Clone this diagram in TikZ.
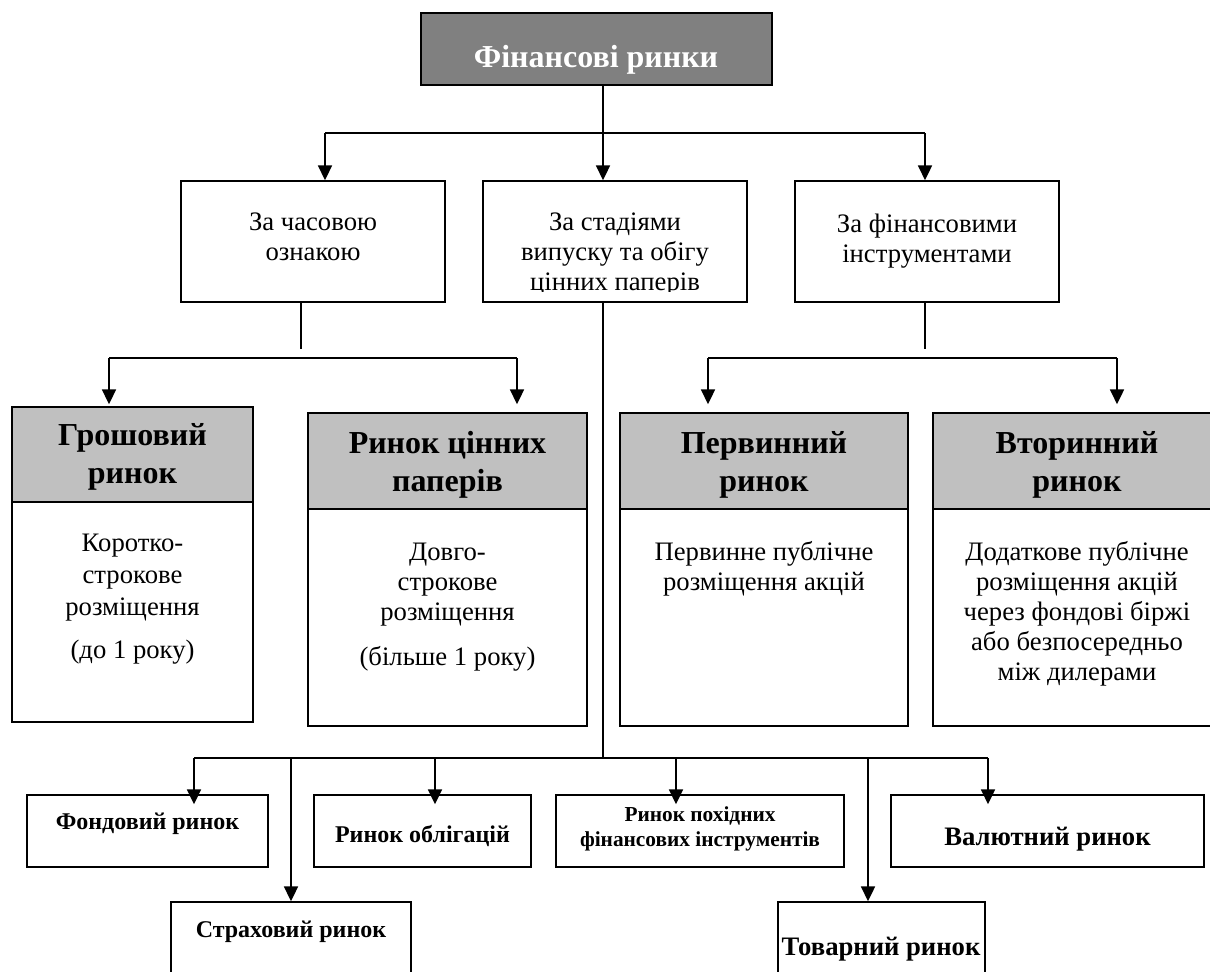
\documentclass[tikz,border=0pt]{standalone}
\usepackage{fontspec}
\setmainfont{Liberation Serif}
\usetikzlibrary{arrows.meta,fit,calc}
\newcommand\setfs[2]{\fontsize{#1}{#2}\selectfont}
\definecolor{topgray}{HTML}{808080}
\definecolor{headgray}{HTML}{C0C0C0}

\begin{document}
\begin{tikzpicture}[x=0.75pt,y=-0.75pt,
  box/.style={draw=black, line width=1.3pt, inner sep=0pt},
  headbox/.style={box, fill=headgray},
  link/.style={line width=1.3pt},
  arr/.style={link, -{Triangle[length=11pt,width=10.5pt]}},
  lbl/.style={align=center, anchor=base, inner sep=0pt},
  plain/.style={lbl, font=\setfs{20pt}{22.5pt}},
  headtxt/.style={lbl, font=\bfseries\setfs{24pt}{28.5pt}},
]
\useasboundingbox (0,0) rectangle (1210,971);

% ---- root ----
\node[box, fill=topgray, fit={(421,13) (772,85)}] (fin) {};
\node[lbl, text=white, font=\bfseries\setfs{24pt}{28pt}] (finT) at (596,67) {Фінансові ринки};

% ---- classification criteria (multi-line labels sit on their last baseline) ----
\node[box, fit={(181,181) (445,302)}] (byTime) {};
\node[plain] (byTimeT) at (313,260) {За часовою\\ознакою};

\node[box, fit={(483,181) (747,302)}] (byStage) {};
\begin{scope}
  \clip (483,181) rectangle (747,291);
  \node[plain] (byStageT) at (615,290) {За стадіями\\випуску та обігу\\цінних паперів};
\end{scope}

\node[box, fit={(795,181) (1059,302)}] (byInstr) {};
\node[plain] (byInstrT) at (927,262) {За фінансовими\\інструментами};

% ---- market types ----
\node[headbox, fit={(12,407) (253,502)}] (grH) {};
\node[box, fit={(12,502) (253,722)}] (grB) {};
\node[headtxt] (grHT) at (132.5,483) {Грошовий\\ринок};
\node[plain, font=\setfs{20pt}{24pt}] (grBT) at (132.5,658) {Коротко-\\строкове\\розміщення\\[8pt](до 1 року)};

\node[headbox, fit={(308,413) (587,509)}] (rcH) {};
\node[box, fit={(308,509) (587,726)}] (rcB) {};
\node[headtxt] (rcHT) at (447.5,491) {Ринок цінних\\паперів};
\node[plain] (rcBT) at (447.5,665) {Довго-\\строкове\\розміщення\\[11pt](більше 1 року)};

\node[headbox, fit={(620,413) (908,509)}] (pvH) {};
\node[box, fit={(620,509) (908,726)}] (pvB) {};
\node[headtxt] (pvHT) at (764,491) {Первинний\\ринок};
\node[plain] (pvBT) at (764,590) {Первинне публічне\\розміщення акцій};

\node[headbox, fit={(933,413) (1221,509)}] (vtH) {};
\node[box, fit={(933,509) (1221,726)}] (vtB) {};
\node[headtxt] (vtHT) at (1077,491) {Вторинний\\ринок};
\node[plain] (vtBT) at (1077,680) {Додаткове публічне\\розміщення акцій\\через фондові біржі\\або безпосередньо\\між дилерами};

% ---- segments ----
\node[box, fit={(27,795) (268,867)}] (fond) {};
\node[lbl, font=\bfseries\setfs{18pt}{21pt}] (fondT) at (147.5,829) {Фондовий ринок};

\node[box, fit={(314,795) (531,867)}] (obl) {};
\node[lbl, font=\bfseries\setfs{18pt}{22pt}] (oblT) at (422.5,842) {Ринок облігацій};

\node[box, fit={(556,795) (844,867)}] (pokh) {};
\node[lbl, font=\bfseries\setfs{16pt}{18.75pt}] (pokhT) at (700,846) {Ринок похідних\\фінансових інструментів};

\node[box, fit={(891,795) (1204,867)}] (val) {};
\node[lbl, font=\bfseries\setfs{20pt}{24pt}] (valT) at (1047.5,845) {Валютний ринок};

\node[box, fit={(171,902) (411,990)}] (strakh) {};
\node[lbl, font=\bfseries\setfs{18pt}{21pt}] (strakhT) at (291,937) {Страховий ринок};

\node[box, fit={(778,902) (985,990)}] (tovar) {};
\node[lbl, font=\bfseries\setfs{20pt}{24pt}] (tovarT) at (881,955) {Товарний ринок};

% ---- connectors: root to criteria ----
\coordinate (j0) at (603,133);
\coordinate (jA) at (325,133);
\coordinate (jC) at (925,133);
\draw[link] (fin.south -| j0) -- (j0);
\draw[link] (jA) -- (jC);
\draw[arr] (jA) -- (jA |- byTime.north);
\draw[arr] (j0) -- (j0 |- byStage.north);
\draw[arr] (jC) -- (jC |- byInstr.north);

% ---- by time ----
\coordinate (sA) at (301,349);
\coordinate (kGr) at (109,358);
\coordinate (kRc) at (517,358);
\draw[link] (byTime.south -| sA) -- (sA);
\draw[link] (kGr) -- (kRc);
\draw[arr] (kGr) -- ($(grH.north -| kGr)+(0,-2)$);
\draw[arr] (kRc) -- ($(rcH.north -| kRc)+(0,-8)$);

% ---- by instruments ----
\coordinate (sC) at (925,349);
\coordinate (kPv) at (708,358);
\coordinate (kVt) at (1117,358);
\draw[link] (byInstr.south -| sC) -- (sC);
\draw[link] (kPv) -- (kVt);
\draw[arr] (kPv) -- ($(pvH.north -| kPv)+(0,-8)$);
\draw[arr] (kVt) -- ($(vtH.north -| kVt)+(0,-8)$);

% ---- by stages: segment bus ----
\coordinate (m0) at (603,758);
\coordinate (mF) at (194,758);
\coordinate (mS) at (291,758);
\coordinate (mO) at (435,758);
\coordinate (mP) at (676,758);
\coordinate (mT) at (868,758);
\coordinate (mV) at (988,758);
\draw[link] (byStage.south -| m0) -- (m0);
\draw[link] (mF) -- (mV);
\draw[arr] (mF) -- ($(fond.north -| mF)+(0,10)$);
\draw[arr] (mS) -- (mS |- strakh.north);
\draw[arr] (mO) -- ($(obl.north -| mO)+(0,10)$);
\draw[arr] (mP) -- ($(pokh.north -| mP)+(0,10)$);
\draw[arr] (mT) -- (mT |- tovar.north);
\draw[arr] (mV) -- ($(val.north -| mV)+(0,10)$);
\end{tikzpicture}
\end{document}
